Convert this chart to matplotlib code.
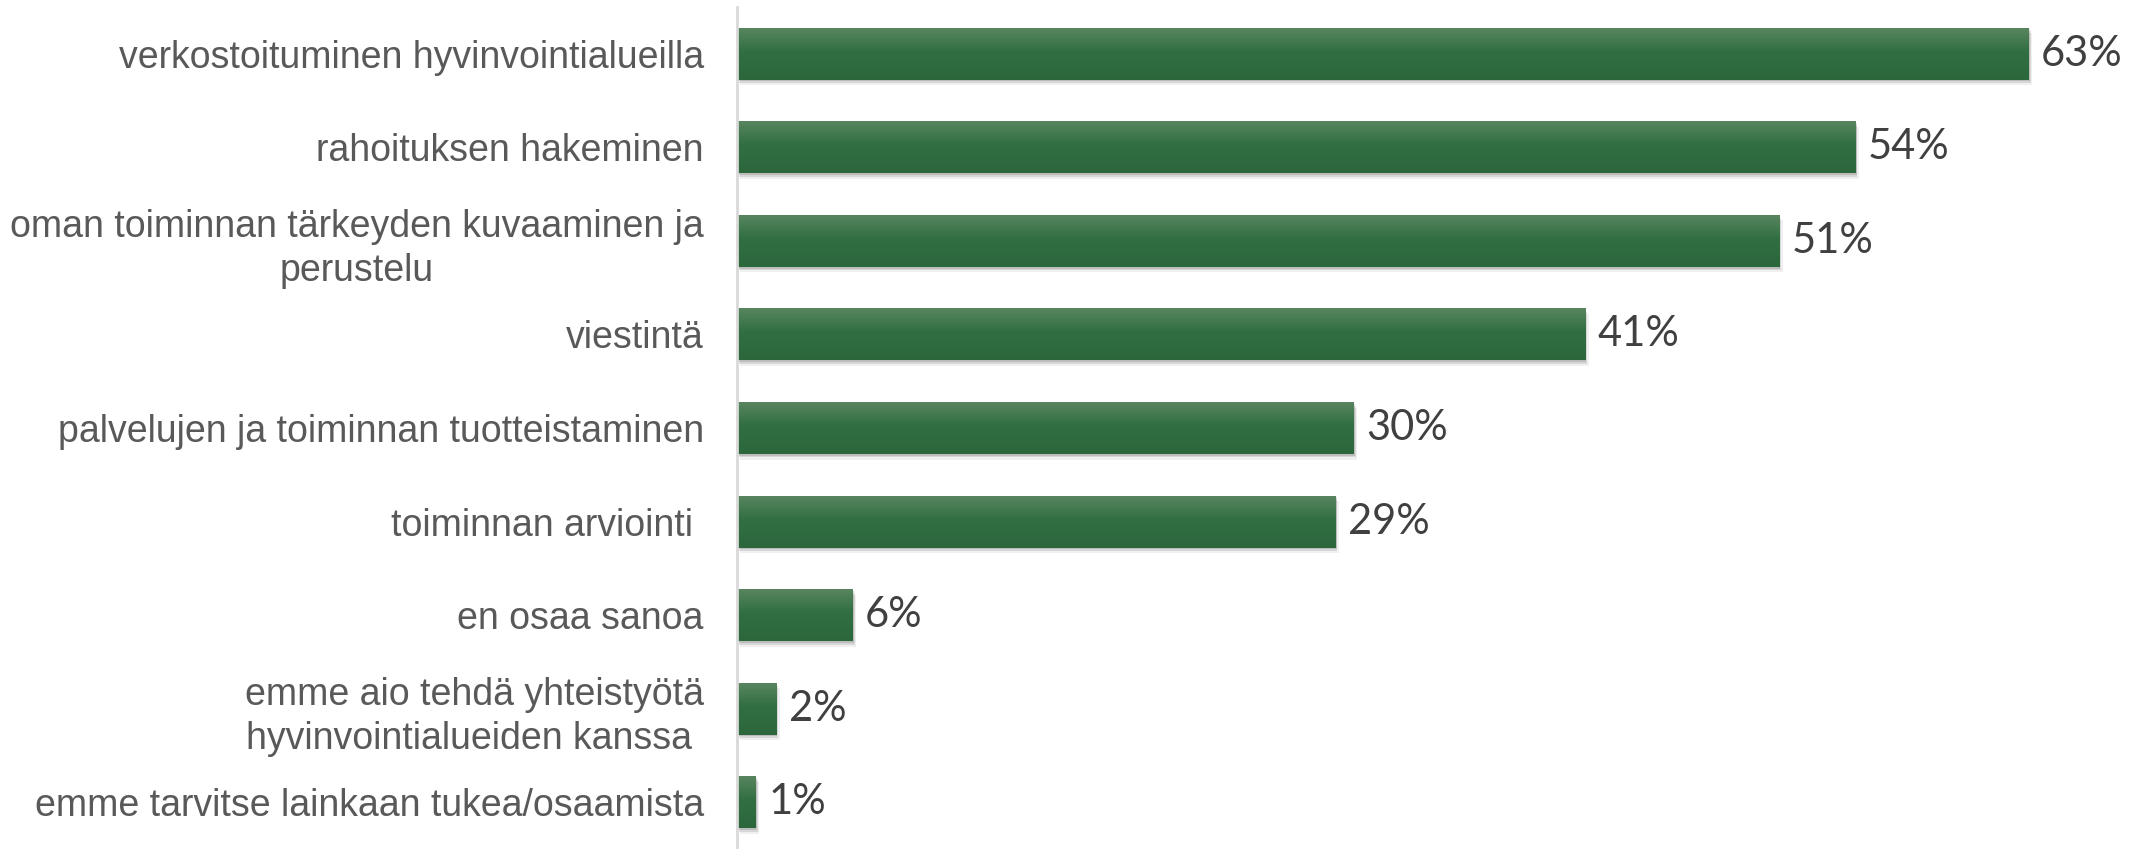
import numpy as np
import matplotlib
matplotlib.use('Agg')
import matplotlib.pyplot as plt
from matplotlib import patheffects as pe
from matplotlib.colors import LinearSegmentedColormap

categories = [
    'verkostoituminen hyvinvointialueilla',
    'rahoituksen hakeminen',
    'oman toiminnan tärkeyden kuvaaminen ja\nperustelu',
    'viestintä',
    'palvelujen ja toiminnan tuotteistaminen',
    'toiminnan arviointi ',
    'en osaa sanoa',
    'emme aio tehdä yhteistyötä\nhyvinvointialueiden kanssa ',
    'emme tarvitse lainkaan tukea/osaamista',
]
# bar lengths (percent)
values = [62.6, 54.2, 50.5, 41.1, 29.9, 29.0, 5.6, 1.9, 0.9]
labels = ['63%', '54%', '51%', '41%', '30%', '29%', '6%', '2%', '1%']

fig = plt.figure(figsize=(21.44, 8.49), dpi=100)
ax = fig.add_axes([737/2144, 0, 1 - 737/2144, 1 - 7/849])

y = np.arange(len(values))
shadow = [pe.SimplePatchShadow(offset=(2.5, -4), shadow_rgbFace='#000000', alpha=0.06),
          pe.SimplePatchShadow(offset=(1.5, -2.5), shadow_rgbFace='#000000', alpha=0.10),
          pe.SimplePatchShadow(offset=(0.8, -1.2), shadow_rgbFace='#000000', alpha=0.12),
          pe.Normal()]
bars = ax.barh(y, values, height=0.555, color='#2f6d40', zorder=2, path_effects=shadow)

# vertical gradient on each bar
cmap = LinearSegmentedColormap.from_list('g', [(0, '#58855f'), (0.45, '#316f42'), (1, '#2c673c')])
grad = np.linspace(0, 1, 64).reshape(-1, 1)
for b in bars:
    x0, y0, w, h = b.get_x(), b.get_y(), b.get_width(), b.get_height()
    ax.imshow(grad, cmap=cmap, aspect='auto', extent=(x0, x0 + w, y0 + h, y0),
              zorder=3, interpolation='bicubic')

ax.set_xlim(0, 1406/20.62)
ax.set_ylim(len(values) - 0.5, -0.5)

for b, t in zip(bars, labels):
    ax.annotate(t, (b.get_width(), b.get_y() + b.get_height()/2),
                xytext=(9, 0), textcoords='offset points', va='center', ha='left',
                fontsize=30, color='#404040', family='Lato')

ax.set_yticks(y)
ax.set_yticklabels(categories, fontsize=27, color='#595959', family='Liberation Sans',
                   multialignment='center', linespacing=1.3)
ax.tick_params(axis='y', length=0, pad=24)
ax.set_xticks([])
for s in ['top', 'right', 'bottom']:
    ax.spines[s].set_visible(False)
ax.spines['left'].set_color('#d9d9d9')
ax.spines['left'].set_linewidth(2)
ax.spines['left'].set_zorder(5)

fig.savefig('out.png', dpi=100)
